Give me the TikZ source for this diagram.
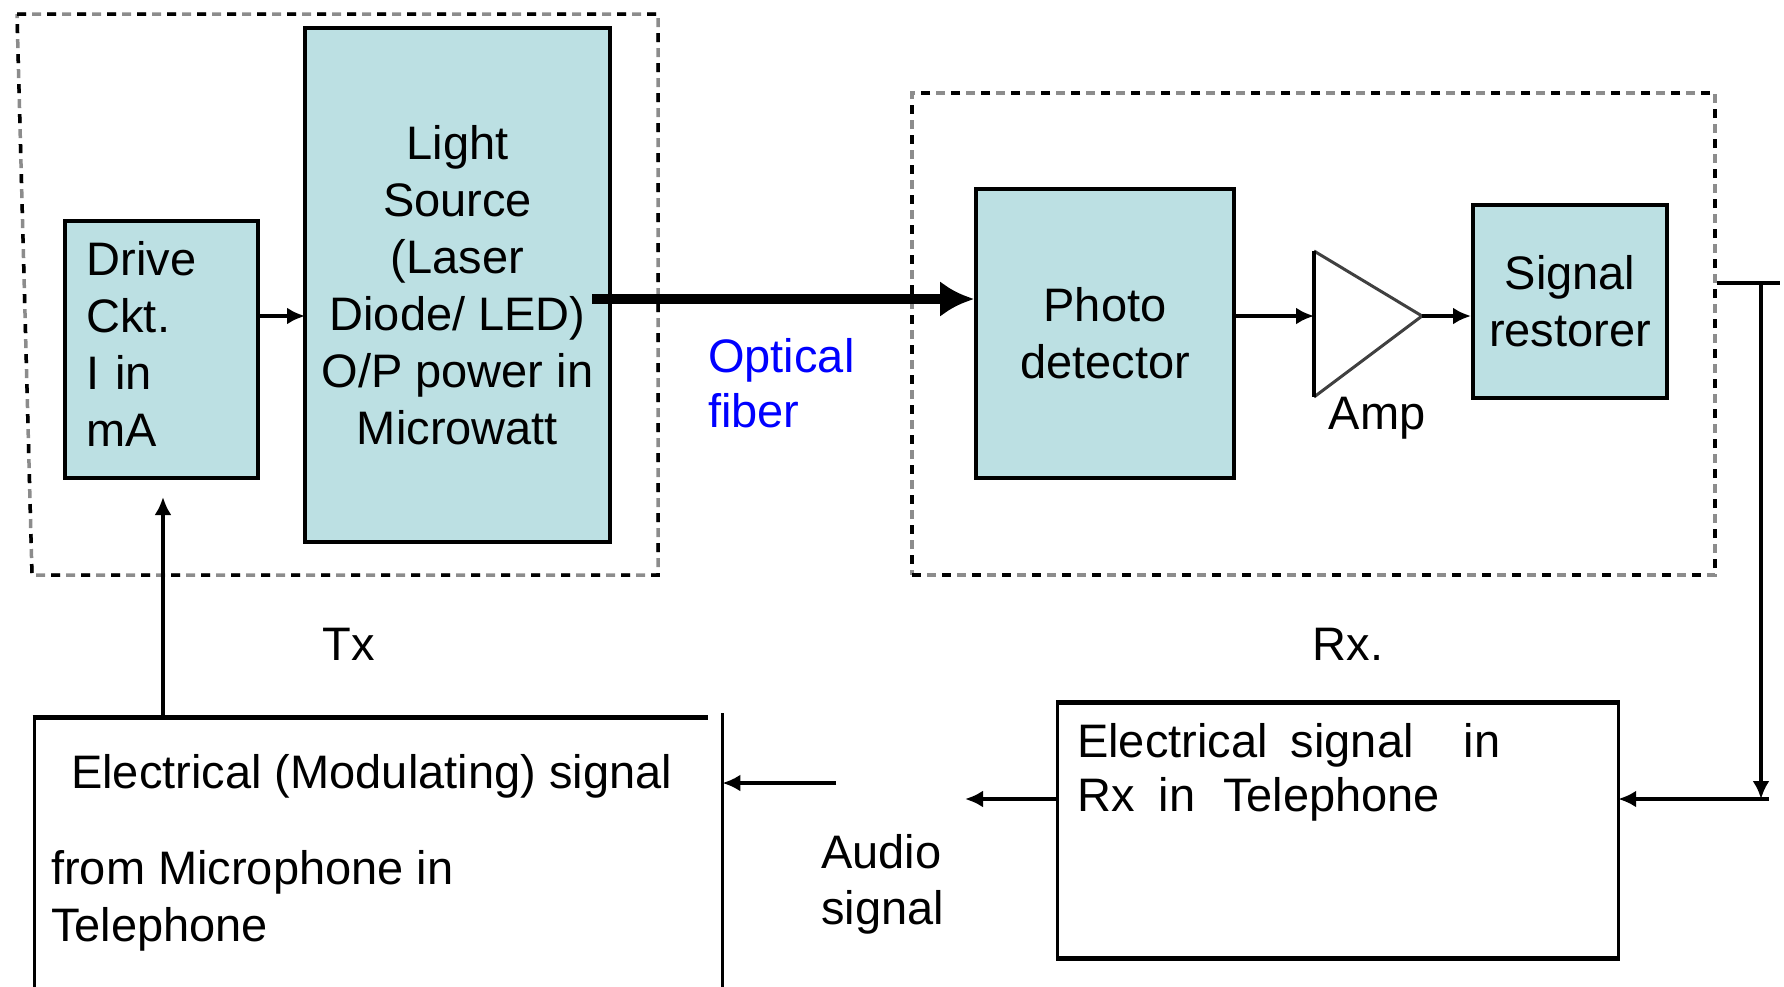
\documentclass[tikz,border=0pt]{standalone}
\usepackage{fontspec}
\setmainfont{Liberation Sans}
\usetikzlibrary{arrows.meta,calc}
\definecolor{boxfill}{RGB}{188,224,227}
\definecolor{fibreblue}{RGB}{0,0,255}
\tikzset{
  every node/.style={font=\fontsize{47}{57}\selectfont, inner sep=0pt},
  blockbox/.style={draw=black, line width=4pt, fill=boxfill, align=center},
  dashframe/.style={draw=black!45, line width=3.5pt, dash pattern=on 9pt off 6pt,
     postaction={draw=black, dash pattern=on 9pt off 21pt}},
  conn/.style={draw=black, line width=3.5pt, -{Latex[length=18pt,width=17pt]}},
  fibre/.style={draw=black, line width=10pt, -{Latex[length=34pt,width=36pt]}},
  plainline/.style={draw=black, line width=3.5pt},
  freetext/.style={align=left, anchor=north west},
}
\begin{document}
\begin{tikzpicture}[x=1pt,y=-1pt]
\useasboundingbox (0,0) rectangle (1784,986);
\clip (0,0) rectangle (1784,986);

% transmitter frame
\coordinate (txa) at (17,14);
\coordinate (txb) at (658,14);
\coordinate (txc) at (658,575);
\coordinate (txd) at (32,575);
\draw[dashframe] (txa) -- (txb) -- (txc) -- (txd) -- cycle;

% receiver frame
\node[dashframe, minimum width=803pt, minimum height=482pt] (rxbox) at (1313.5,334) {};

% blocks
\node[blockbox, minimum width=193pt, minimum height=257pt] (drive) at (161.5,349.5) {};
\node[text width=150pt, align=left] (drivetext) at ($(drive.center)+(0,-6)$) {Drive\\Ckt.\\I in\\mA};
\node[blockbox, minimum width=305pt, minimum height=514pt]
  (light) at (457.5,285) {\fontsize{47}{58}\selectfont Light\\Source\\(Laser\\Diode/ LED)\\O/P power in\\Microwatt};
\node[blockbox, minimum width=258pt, minimum height=289pt]
  (photo) at (1105,333.5) {Photo\\detector};
\node[blockbox, minimum width=194pt, minimum height=193pt]
  (restorer) at (1570,301.5) {Signal\\restorer};

% amplifier
\coordinate (ampin) at (1314,316);
\coordinate (ampout) at (1422,316);
\coordinate (amptop) at (1314,251);
\coordinate (ampbot) at (1314,397);
\draw[line width=3pt, draw=black!75, line join=miter] (amptop) -- (ampout) -- (ampbot);
\draw[plainline] (amptop) -- (ampbot);
\node (amplabel) at (1377,418) {Amp};

% connectors in the upper half
\coordinate (lightin) at (305,316);
\draw[conn] (lightin -| drive.east) -- (lightin);
\coordinate (fibrestart) at (592,299);
\draw[fibre] (fibrestart) -- (fibrestart -| photo.west);
\draw[conn] (ampin -| photo.east) -- (ampin);
\draw[conn] (ampout) -- (ampout -| restorer.west);

\node[freetext, text=fibreblue, font=\fontsize{47}{55}\selectfont] (fibrelabel) at (708,338) {Optical\\fiber};
\node (txlabel) at (349,644) {Tx};
\node (rxlabel) at (1348,644) {Rx.};

% output of the receiver
\coordinate (outend) at (1780,283);
\coordinate (tap) at (1761,283);
\coordinate (rxin) at (1761,799);
\coordinate (rxinend) at (1769,799);
\draw[plainline] (rxbox.east |- outend) -- (outend);
\draw[conn] (tap) -- (rxin);

% receiving telephone box
\node[minimum width=560pt, minimum height=255pt] (elecrx) at (1338,830.5) {};
\draw[line width=3pt] (elecrx.north west) -- (elecrx.south west);
\draw[line width=3pt] (elecrx.north east) -- (elecrx.south east);
\draw[line width=5pt] ($(elecrx.north west)+(-1.5,0)$) -- ($(elecrx.north east)+(1.5,0)$);
\draw[line width=5pt] ($(elecrx.south west)+(-1.5,0)$) -- ($(elecrx.south east)+(1.5,0)$);
\node[freetext, font=\fontsize{47}{54}\selectfont] (rxtext) at (1077,723)
  {Electrical\hspace{23pt}signal\hspace{50pt}in\\Rx\hspace{24pt}in\hspace{28pt}Telephone};
\draw[conn] (rxinend) -- (rxinend -| elecrx.east);

\coordinate (audout) at (965,799);
\draw[conn] (audout -| elecrx.west) -- (audout);
\node[freetext, font=\fontsize{47}{56}\selectfont] (audiolabel) at (821,834) {Audio\\signal};

% modulating signal box (runs off the bottom)
\node[minimum width=688pt, minimum height=320pt, anchor=north west] (mod) at (34,717) {};
\draw[line width=3pt] (mod.south west) -- (mod.north west);
\draw[line width=5pt] ($(mod.north west)+(-1.5,0)$) -- ($(mod.north east)+(-14,0)$);
\draw[line width=3pt] ($(mod.north east)+(0,-4)$) -- (mod.south east);
\node[freetext] (modtitle) at (71,754) {Electrical (Modulating) signal};
\node[freetext] (modtext) at (51,850) {from Microphone in\\Telephone};

\coordinate (audin) at (836,783);
\draw[conn] (audin) -- (audin -| mod.east);

\coordinate (drivein) at (163,497);
\draw[conn] (drivein |- mod.north) -- (drivein);
\end{tikzpicture}
\end{document}
